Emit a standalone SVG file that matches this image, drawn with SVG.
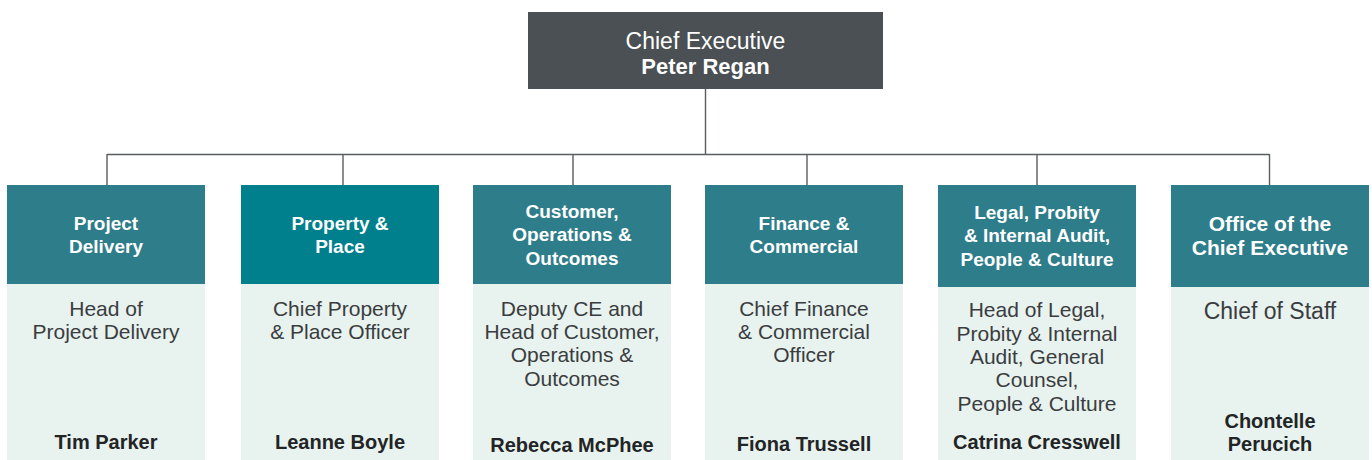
<svg xmlns="http://www.w3.org/2000/svg" width="1372" height="460" viewBox="0 0 1372 460">
<style>
text{font-family:"Liberation Sans",Arial,sans-serif;text-anchor:middle}
.hd{fill:#2e7d8a}
.hd2{fill:#00808c}
.bd{fill:#e8f2ee}
.ht{fill:#ffffff;font-weight:700;font-size:19px}
.bt{fill:#3a3d3f;font-size:21px}
.nm{fill:#222426;font-weight:700;font-size:20px}
.conn{stroke:#5a5d60;stroke-width:1.4;fill:none}
</style>
<rect width="1372" height="460" fill="#ffffff"/>
<g id="connectors" class="conn">
<path d="M705.5 88V154.5M107 154.5H1269.5M107 154V185M343 154V185M573 154V185M807 154V185M1037 154V185M1269.5 154V185"/>
</g>
<g id="ceo">
<rect x="528" y="12" width="355" height="77" fill="#4a5053"/>
<text x="705.5" y="49" fill="#ffffff" style="font-size:23px">Chief Executive</text>
<text x="705.5" y="74" fill="#ffffff" style="font-size:22px;font-weight:700">Peter Regan</text>
</g>
<g id="project-delivery">
<rect class="hd" x="7" y="185" width="198" height="99"/>
<rect class="bd" x="7" y="284" width="198" height="176"/>
<text class="ht" x="106" y="230">Project</text>
<text class="ht" x="106" y="253">Delivery</text>
<text class="bt" x="106" y="316">Head of</text>
<text class="bt" x="106" y="339">Project Delivery</text>
<text class="nm" x="106" y="449">Tim Parker</text>
</g>
<g id="property-place">
<rect class="hd2" x="241" y="185" width="198" height="99"/>
<rect class="bd" x="241" y="284" width="198" height="176"/>
<text class="ht" x="340" y="230">Property &amp;</text>
<text class="ht" x="340" y="253">Place</text>
<text class="bt" x="340" y="316">Chief Property</text>
<text class="bt" x="340" y="339">&amp; Place Officer</text>
<text class="nm" x="340" y="449">Leanne Boyle</text>
</g>
<g id="customer-operations">
<rect class="hd" x="473" y="185" width="198" height="99"/>
<rect class="bd" x="473" y="284" width="198" height="176"/>
<text class="ht" x="572" y="218">Customer,</text>
<text class="ht" x="572" y="241">Operations &amp;</text>
<text class="ht" x="572" y="265">Outcomes</text>
<text class="bt" x="572" y="316">Deputy CE and</text>
<text class="bt" x="572" y="339">Head of Customer,</text>
<text class="bt" x="572" y="362">Operations &amp;</text>
<text class="bt" x="572" y="386">Outcomes</text>
<text class="nm" x="572" y="452">Rebecca McPhee</text>
</g>
<g id="finance-commercial">
<rect class="hd" x="705" y="185" width="198" height="99"/>
<rect class="bd" x="705" y="284" width="198" height="176"/>
<text class="ht" x="804" y="230">Finance &amp;</text>
<text class="ht" x="804" y="253">Commercial</text>
<text class="bt" x="804" y="316">Chief Finance</text>
<text class="bt" x="804" y="339">&amp; Commercial</text>
<text class="bt" x="804" y="362">Officer</text>
<text class="nm" x="804" y="451">Fiona Trussell</text>
</g>
<g id="legal-probity">
<rect class="hd" x="938" y="185" width="198" height="102"/>
<rect class="bd" x="938" y="287" width="198" height="173"/>
<text class="ht" x="1037" y="219">Legal, Probity</text>
<text class="ht" x="1037" y="242">&amp; Internal Audit,</text>
<text class="ht" x="1037" y="266">People &amp; Culture</text>
<text class="bt" x="1037" y="317">Head of Legal,</text>
<text class="bt" x="1037" y="341">Probity &amp; Internal</text>
<text class="bt" x="1037" y="364">Audit, General</text>
<text class="bt" x="1037" y="387">Counsel,</text>
<text class="bt" x="1037" y="411">People &amp; Culture</text>
<text class="nm" x="1037" y="449">Catrina Cresswell</text>
</g>
<g id="office-ce">
<rect class="hd" x="1171" y="185" width="198" height="102"/>
<rect class="bd" x="1171" y="287" width="198" height="173"/>
<text class="ht" x="1270" y="231" style="font-size:21px">Office of the</text>
<text class="ht" x="1270" y="255" style="font-size:21px">Chief Executive</text>
<text class="bt" x="1270" y="319" style="font-size:23px">Chief of Staff</text>
<text class="nm" x="1270" y="428">Chontelle</text>
<text class="nm" x="1270" y="451">Perucich</text>
</g>
</svg>
